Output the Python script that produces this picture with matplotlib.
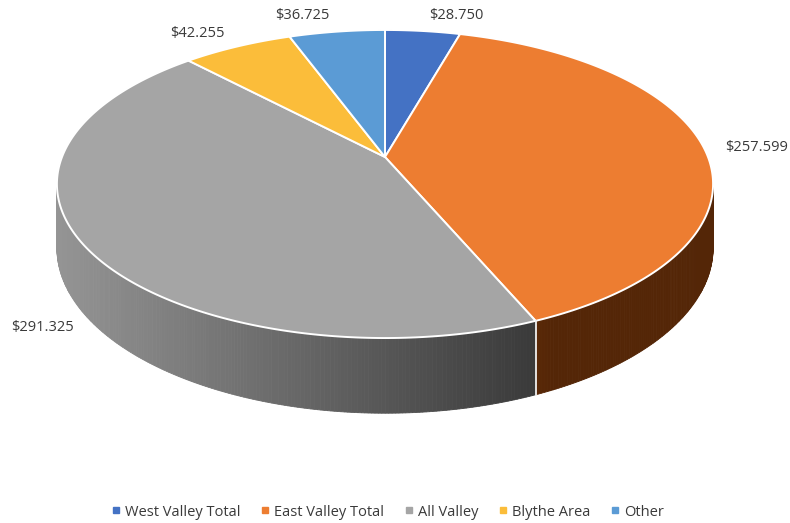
import numpy as np
import matplotlib.pyplot as plt
from matplotlib.patches import Polygon
from matplotlib.lines import Line2D

plt.rcParams['font.family'] = ['Open Sans', 'DejaVu Sans']

# data
categories = ['West Valley Total', 'East Valley Total', 'All Valley', 'Blythe Area', 'Other']
values = [28.750, 257.599, 291.325, 42.255, 36.725]
value_labels = ['$28.750', '$257.599', '$291.325', '$42.255', '$36.725']
colors = ['#4472c4', '#ed7d31', '#a5a5a5', '#fbbd3a', '#5b9bd5']
side_colors = ['#4472c4', '#ff7314', '#a5a5a5', '#fbbd3a', '#5b9bd5']

# label text positions (pixels)
label_pos = [(456, 15), (757, 148), (43, 328), (197, 33), (302, 15)]

# pie geometry in pixel space (perspective ellipse)
CX, CY = 385, 157
RX, RY = 323, 149.3
PERSP = -0.1753
DEPTH = 62


def proj(phi):
    # phi in degrees, clockwise from 12 o'clock
    p = np.radians(phi)
    u = np.sin(p)
    v = -np.cos(p)
    d = 1 + PERSP * v
    return CX + RX * u / d, CY + RY * v / d, d


def shade(hex_col, f):
    h = hex_col.lstrip('#')
    rgb = np.array([int(h[i:i + 2], 16) for i in (0, 2, 4)]) / 255.0
    return tuple(np.clip(rgb * f, 0, 1))


fig = plt.figure(figsize=(7.9, 5.23), dpi=100)
ax = fig.add_axes([0, 0, 1, 1])
ax.set_xlim(0, 790)
ax.set_ylim(523, 0)
ax.axis('off')

total = sum(values)
bounds = np.concatenate([[0], np.cumsum(values) / total * 360])

# visible front arc of the side wall
vis_lo = np.degrees(np.arccos(PERSP))
vis_hi = 360 - vis_lo

# side walls
for i in range(len(values)):
    a0 = max(bounds[i], vis_lo)
    a1 = min(bounds[i + 1], vis_hi)
    if a1 <= a0:
        continue
    angs = np.linspace(a0, a1, int((a1 - a0) * 2) + 2)
    for j in range(len(angs) - 1):
        x0, y0, d0 = proj(angs[j])
        x1, y1, d1 = proj(angs[j + 1])
        f = max(0.33, 0.9 - 0.00115 * ((x0 + x1) / 2 - 57))
        c = shade(side_colors[i], f)
        quad = [(x0, y0), (x1, y1), (x1, y1 + DEPTH / d1), (x0, y0 + DEPTH / d0)]
        ax.add_patch(Polygon(quad, closed=True, facecolor=c, edgecolor=c, lw=0.6))

# separators on the side wall
for b in bounds[1:-1]:
    if vis_lo < b < vis_hi:
        x, y, d = proj(b)
        ax.plot([x, x], [y, y + DEPTH / d], color='#f0f0f0', lw=1.3)

# top faces
for i in range(len(values)):
    angs = np.linspace(bounds[i], bounds[i + 1], 200)
    pts = [(CX, CY)] + [proj(a)[:2] for a in angs]
    ax.add_patch(Polygon(pts, closed=True, facecolor=colors[i],
                         edgecolor='white', lw=1.4, joinstyle='round'))

# value labels
for txt, (lx, ly) in zip(value_labels, label_pos):
    ax.text(lx, ly, txt, ha='center', va='center', fontsize=10.5, color='#3a3a3a')

handles = [Line2D([], [], marker='s', ls='', color=c, markersize=4) for c in colors]
fig.legend(handles, categories, loc='center', bbox_to_anchor=(0.489, 1 - 512 / 523),
           ncol=5, frameon=False, fontsize=10.5, handletextpad=0.1,
           columnspacing=1.2, labelcolor='#3a3a3a', handlelength=1.0)

fig.savefig('out.png', dpi=100)
